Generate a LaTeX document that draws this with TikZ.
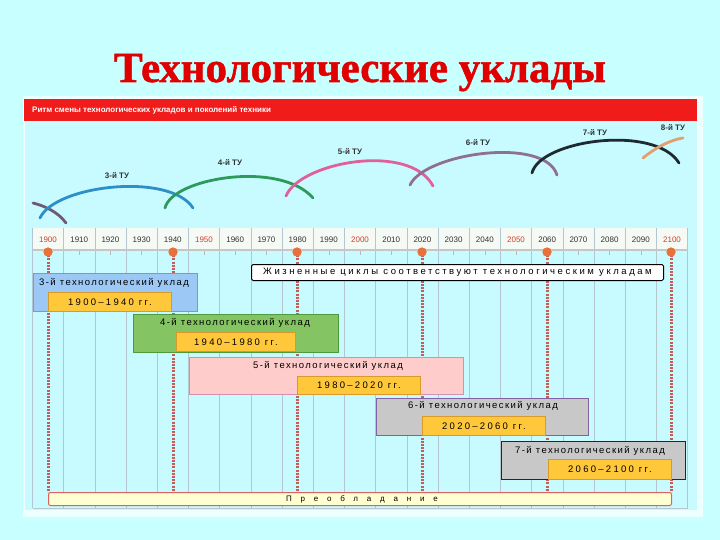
\documentclass[tikz,border=0pt]{standalone}
\usepackage{fontspec}
\setmainfont{Liberation Sans}
\newfontfamily\titlefont[FakeBold=1.2]{Liberation Serif Bold}
\newfontfamily\spsans[LetterSpace=15]{Liberation Sans}
\newfontfamily\dsans[LetterSpace=24]{Liberation Sans}
\newfontfamily\wsans[LetterSpace=27]{Liberation Sans}
\newfontfamily\xsans[LetterSpace=110]{Liberation Sans}
\definecolor{bgc}{HTML}{C8FFFF}
\definecolor{panelc}{HTML}{EEFFFF}
\definecolor{innerc}{HTML}{C8FBFF}
\definecolor{hdr}{HTML}{F01C1C}
\definecolor{ttl}{HTML}{E00000}
\definecolor{bluef}{HTML}{9CC8F6}
\definecolor{blued}{HTML}{6E9ED6}
\definecolor{greenf}{HTML}{84C462}
\definecolor{greend}{HTML}{4E9A3E}
\definecolor{pinkf}{HTML}{FFCCCC}
\definecolor{pinkd}{HTML}{D092B0}
\definecolor{grayf}{HTML}{C8C8C8}
\definecolor{purd}{HTML}{8262A2}
\definecolor{yelf}{HTML}{FFC83A}
\definecolor{yeld}{HTML}{D89A2A}
\definecolor{barf}{HTML}{FFFFD2}
\definecolor{bard}{HTML}{E06060}
\definecolor{markc}{HTML}{E8703A}
\definecolor{dashc}{HTML}{C0605A}
\definecolor{gridc}{HTML}{B4C6D0}
\definecolor{yearr}{HTML}{D04030}
\definecolor{arcA}{HTML}{6E5A78}
\definecolor{arcB}{HTML}{2E8FC8}
\definecolor{arcC}{HTML}{2E9A5A}
\definecolor{arcD}{HTML}{E0609A}
\definecolor{arcE}{HTML}{8E7090}
\definecolor{arcF}{HTML}{1E2A30}
\definecolor{arcG}{HTML}{E0A070}
\definecolor{bandc}{HTML}{F6FAF4}
\tikzset{
  ukbox/.style={draw, line width=1pt, anchor=north west, inner sep=0pt},
  yelbox/.style={draw=yeld, fill=yelf, line width=1pt, anchor=north west, inner sep=0pt, font=\dsans\fontsize{9.5}{11}\selectfont},
  uktext/.style={font=\spsans\fontsize{9.5}{11}\selectfont, inner sep=0pt},
  yr/.style={font=\fontsize{8}{9}\selectfont, inner sep=0pt},
  tu/.style={font=\bfseries\fontsize{8}{9}\selectfont, text=black!80, inner sep=0pt},
  arcline/.style={line width=2.8pt, line cap=round},
  markdot/.style={circle, fill=markc, minimum size=9pt, inner sep=0pt},
  dline/.style={draw=dashc, line width=3pt, dash pattern=on 2pt off 1.2pt},
}
\begin{document}
\begin{tikzpicture}[x=1pt,y=-1pt]
\useasboundingbox (0,0) rectangle (720,540);
\fill[bgc] (0,0) rectangle (720,540);
% title
\node[font=\titlefont\fontsize{43}{50}\selectfont, text=ttl, inner sep=0pt, anchor=base] (title) at (360,82) {Технологические уклады};
% panel
\fill[panelc] (23,96) rectangle (703,517);
\fill[innerc] (25,121) rectangle (697,510);
\node[fill=hdr, minimum width=673pt, minimum height=22pt, anchor=north west, inner sep=0pt] (hdr) at (24,99) {};
\node[font=\bfseries\fontsize{8}{9}\selectfont, text=white, anchor=west, inner sep=0pt] (hdrtext) at (32,110) {Ритм смены технологических укладов и поколений техники};
% year band and grid
\fill[bandc] (33,228) rectangle (688,249);
\foreach \k in {0,...,21} {
  \draw[gridc, line width=0.7pt] ({32.6+31.2*\k},228) -- ({32.6+31.2*\k},508);
}
\draw[gridc, line width=0.7pt] (33,508) -- (688,508);
\draw[gray!45, line width=2pt] (33,250) -- (688,250);
\foreach \k in {0,...,20} {
  \draw[gray!55, line width=0.6pt] ({48+31.2*\k},251) -- ({48+31.2*\k},255);
}
\foreach \y [count=\i from 0] in {1900,1910,1920,1930,1940,1950,1960,1970,1980,1990,2000,2010,2020,2030,2040,2050,2060,2070,2080,2090,2100} {
  \pgfmathtruncatemacro{\m}{mod(\i,5)}
  \ifnum\m=0
    \node[yr, text=yearr] (y\y) at ({48+31.2*\i},240) {\y};
  \else
    \node[yr, text=black!80] (y\y) at ({48+31.2*\i},240) {\y};
  \fi
}
% bottom bar
\node[draw=bard, fill=barf, line width=1pt, rounded corners=2pt, minimum width=623pt, minimum height=13pt, anchor=north west, inner sep=0pt] (bar) at (48,492) {};
\node[font=\xsans\fontsize{8}{9}\selectfont, inner sep=0pt] (bartext) at (362,499) {Преобладание};
% markers and dashed lines
\foreach \x/\n in {48/1900,173/1940,297/1980,422/2020,547/2060,671/2100} {
  \node[markdot] (m\n) at (\x,252) {};
  \draw[dline] (m\n.center) -- (m\n.center |- bar.north);
  \fill[markc] (m\n) circle (4.5pt);
}
% life cycle box
\node[draw=black, fill=white, line width=1pt, rounded corners=1.5pt, minimum width=412pt, minimum height=16pt, anchor=north west, inner sep=0pt] (life) at (251,264) {};
\node[font=\wsans\fontsize{9.5}{11}\selectfont, inner sep=0pt] (lifetext) at (life.center) {Жизненные циклы соответствуют технологическим укладам};
% uklad 3
\node[ukbox, draw=blued, fill=bluef, minimum width=164pt, minimum height=38pt] (b3) at (33,273) {};
\node[uktext] (t3) at (114,283) {3-й технологический уклад};
\node[yelbox, minimum width=123pt, minimum height=19pt] (d3) at (48,292) {1900–1940 гг.};
% uklad 4
\node[ukbox, draw=greend, fill=greenf, minimum width=205pt, minimum height=38pt] (b4) at (133,314) {};
\node[uktext] (t4) at (235,323) {4-й технологический уклад};
\node[yelbox, minimum width=119pt, minimum height=19pt] (d4) at (176,332) {1940–1980 гг.};
% uklad 5
\node[ukbox, draw=pinkd, fill=pinkf, minimum width=274pt, minimum height=37pt] (b5) at (189,357) {};
\node[uktext] (t5) at (328,366) {5-й технологический уклад};
\node[yelbox, minimum width=123pt, minimum height=18pt] (d5) at (297,376) {1980–2020 гг.};
% uklad 6
\node[ukbox, draw=purd, fill=grayf, minimum width=212pt, minimum height=37pt] (b6) at (376,398) {};
\node[uktext] (t6) at (483,406) {6-й технологический уклад};
\node[yelbox, minimum width=123pt, minimum height=19pt] (d6) at (422,416) {2020–2060 гг.};
% uklad 7
\node[ukbox, draw=black!85, fill=grayf, minimum width=184pt, minimum height=38pt] (b7) at (501,441) {};
\node[uktext] (t7) at (590,451) {7-й технологический уклад};
\node[yelbox, minimum width=123pt, minimum height=20pt] (d7) at (548,459) {2060–2100 гг.};
% arcs
\coordinate (a2s) at (33,203); \coordinate (a2e) at (66,223);
\draw[arcline, arcA] (a2s) .. controls (45,206) and (58,212) .. (a2e);
\coordinate (a3s) at (40,218); \coordinate (a3e) at (193,208);
\draw[arcline, arcB] (a3s) .. controls (55,185) and (170,172) .. (a3e);
\coordinate (a4s) at (165,208); \coordinate (a4e) at (313,198);
\draw[arcline, arcC] (a4s) .. controls (172,178) and (280,160) .. (a4e);
\coordinate (a5s) at (286,196); \coordinate (a5e) at (433,186);
\draw[arcline, arcD] (a5s) .. controls (300,162) and (410,142) .. (a5e);
\coordinate (a6s) at (410,185); \coordinate (a6e) at (557,175);
\draw[arcline, arcE] (a6s) .. controls (425,153) and (545,136) .. (a6e);
\coordinate (a7s) at (532,173); \coordinate (a7e) at (679,163);
\draw[arcline, arcF] (a7s) .. controls (540,140) and (655,124) .. (a7e);
\coordinate (a8s) at (643,158); \coordinate (a8e) at (683,138);
\draw[arcline, arcG] (a8s) .. controls (655,148) and (670,140) .. (a8e);
\node[tu] (l3) at (117,176) {3-й ТУ};
\node[tu] (l4) at (230,163) {4-й ТУ};
\node[tu] (l5) at (350,152) {5-й ТУ};
\node[tu] (l6) at (478,143) {6-й ТУ};
\node[tu] (l7) at (595,133) {7-й ТУ};
\node[tu] (l8) at (673,128) {8-й ТУ};
\end{tikzpicture}
\end{document}
